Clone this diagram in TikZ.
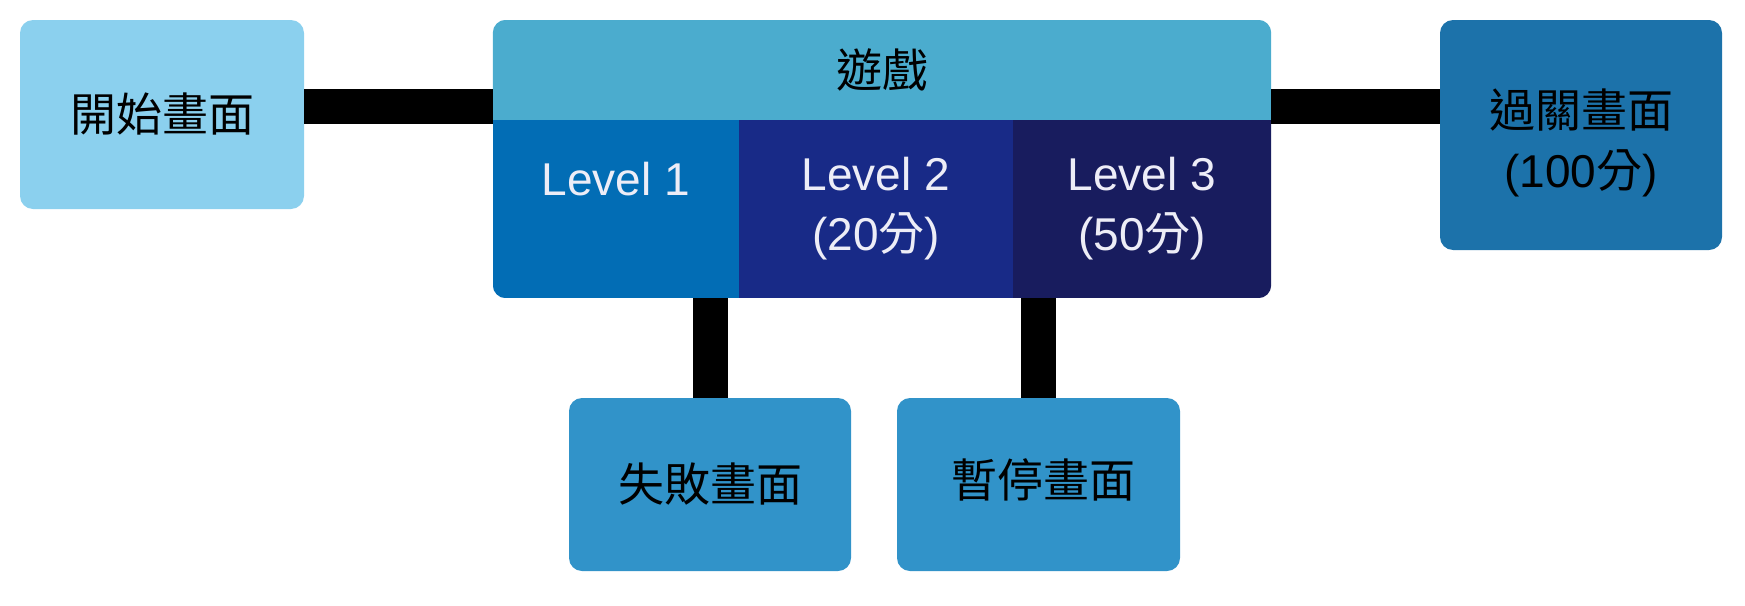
\documentclass[tikz,border=0pt]{standalone}
\usepackage{fontspec}
\setmainfont{Liberation Sans}
\newfontfamily\cjk{Noto Sans CJK TC}
\definecolor{startblue}{HTML}{8BD0EE}
\definecolor{headblue}{HTML}{4BACCE}
\definecolor{lvone}{HTML}{026DB5}
\definecolor{lvtwo}{HTML}{182A87}
\definecolor{lvthree}{HTML}{181C5E}
\definecolor{passblue}{HTML}{1C72AA}
\definecolor{subblue}{HTML}{3193C9}
\definecolor{lvtext}{HTML}{EDEDF7}
\tikzset{
  every picture/.style={x=1pt, y=-1pt, line join=round},
  screen/.style={rounded corners=13pt, inner sep=0pt, align=center, text=black, font=\fontsize{46}{60}\selectfont},
  part/.style={inner sep=0pt, align=center, font=\fontsize{46}{60}\selectfont},
  bar/.style={line width=35pt, black},
}

\begin{document}
\begin{tikzpicture}
\useasboundingbox (0,0) rectangle (1745,605);
\coordinate (busline) at (0,106.5);
\node[screen,fill=startblue,minimum width=284pt,minimum height=189pt] (start) at (162,114.5) {\cjk 開始畫面};
\node[inner sep=0pt,minimum width=778pt,minimum height=278pt] (game) at (882,159) {};
\node[screen,fill=passblue,minimum width=282pt,minimum height=230pt,
  label={[screen,yshift=-8pt]center:{{\cjk 過關畫面}\\(100{\cjk 分})}}] (pass) at (1581,135) {};
\node[screen,fill=subblue,minimum width=282pt,minimum height=173pt] (fail) at (710,484.5) {\cjk 失敗畫面};
\node[screen,fill=subblue,minimum width=283pt,minimum height=173pt,
  label={[screen,xshift=5pt,yshift=5pt]center:{\cjk 暫停畫面}}] (pause) at (1038.5,484.5) {};
\begin{scope}
\clip[rounded corners=13pt] (game.north west) rectangle (game.south east);
\node[part,fill=headblue,minimum width=780pt,minimum height=101pt] (head) at (882,70) {\cjk 遊戲};
\node[part,fill=lvone,text=lvtext,minimum width=247pt,minimum height=178pt] (lv1) at (616,209) {Level 1\\\mbox{}};
\node[part,fill=lvtwo,text=lvtext,minimum width=275pt,minimum height=178pt] (lv2) at (876,209) {Level 2\\(20{\cjk 分})};
\node[part,fill=lvthree,text=lvtext,minimum width=259pt,minimum height=178pt] (lv3) at (1142,209) {Level 3\\(50{\cjk 分})};
\end{scope}
\draw[bar] (start.east |- busline) -- (game.west |- busline);
\draw[bar] (game.east |- busline) -- (pass.west |- busline);
\draw[bar] (fail.north) -- (fail.north |- game.south);
\draw[bar] (pause.north) -- (pause.north |- game.south);
\end{tikzpicture}
\end{document}
